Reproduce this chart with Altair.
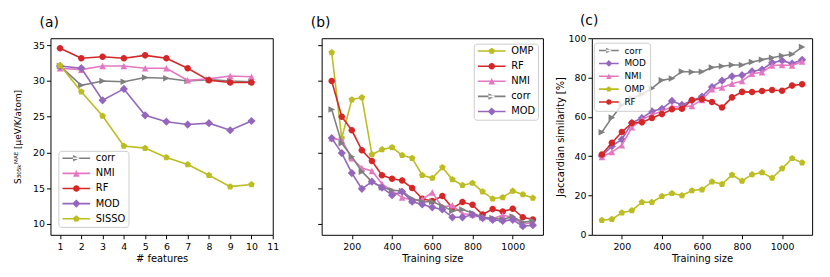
import altair as alt
import pandas as pd

FONT = "DejaVu Sans"

# ---------------- data ----------------
n_features = [1, 2, 3, 4, 5, 6, 7, 8, 9, 10]
a_corr = [32.1, 29.4, 30.0, 29.9, 30.5, 30.4, 30.0, 30.2, 30.0, 29.9]
a_nmi = [31.8, 31.6, 32.1, 32.1, 31.8, 31.8, 30.1, 30.3, 30.7, 30.6]
a_rf = [34.6, 33.2, 33.4, 33.2, 33.6, 33.2, 31.8, 30.1, 29.8, 29.8]
a_mod = [32.1, 31.8, 27.3, 28.9, 25.2, 24.3, 23.9, 24.1, 23.1, 24.4]
a_sisso = [32.2, 28.5, 25.1, 20.9, 20.6, 19.3, 18.3, 16.8, 15.2, 15.5]

train_size = [100, 150, 200, 250, 300, 350, 400, 450, 500, 550, 600,
              650, 700, 750, 800, 850, 900, 950, 1000, 1050, 1100]
b_omp = [34.0, 22.0, 27.4, 27.7, 19.7, 20.4, 20.7, 19.6, 19.2, 16.8, 16.4,
         17.9, 16.2, 15.4, 15.7, 14.5, 13.5, 13.7, 14.6, 14.1, 13.6]
b_rf = [30.0, 25.0, 23.1, 20.3, 18.8, 16.8, 16.3, 16.05, 15.0, 13.5, 13.2,
        13.9, 12.2, 13.05, 12.65, 11.3, 12.05, 11.7, 12.1, 10.9, 10.6]
b_nmi = [22.0, 21.7, 19.2, 17.8, 17.4, 15.6, 14.6, 13.7, 13.3, 13.4, 14.4,
         12.3, 12.6, 11.4, 11.3, 10.9, 10.7, 11.2, 10.9, 9.9, 10.2]
b_corr = [26.0, 21.3, 19.4, 17.3, 15.9, 15.1, 14.7, 14.6, 13.5, 13.1, 13.1,
          12.5, 11.8, 12.0, 11.5, 10.9, 10.8, 10.6, 11.0, 10.2, 10.4]
b_mod = [22.0, 19.9, 17.1, 14.9, 15.9, 15.05, 14.0, 14.5, 13.1, 12.7, 12.3,
         12.0, 10.9, 10.9, 11.25, 10.8, 10.55, 10.4, 10.55, 9.65, 9.8]

c_corr = [52.2, 59.6, 66.0, 69.5, 71.5, 74.5, 78.6, 79.5, 83.1, 82.8, 82.9,
          85.1, 85.7, 86.4, 86.4, 87.9, 89.1, 90.1, 91.1, 91.8, 95.5]
c_mod = [40.1, 45.1, 48.5, 56.9, 59.4, 62.8, 64.1, 68.1, 66.1, 68.3, 70.3,
         75.2, 78.4, 80.6, 81.2, 83.1, 84.1, 87.5, 88.6, 87.1, 89.0]
c_nmi = [39.6, 42.1, 45.6, 54.7, 58.6, 61.1, 62.8, 65.3, 64.9, 65.6, 68.6,
         74.1, 75.0, 76.9, 78.2, 81.9, 82.7, 86.1, 86.4, 86.1, 88.2]
c_omp = [7.4, 7.9, 11.2, 12.4, 16.6, 16.6, 19.6, 21.1, 20.0, 22.5, 23.0,
         27.0, 25.8, 30.5, 27.4, 30.7, 31.7, 28.9, 33.7, 38.9, 36.7]
c_rf = [40.9, 46.8, 52.3, 56.9, 57.2, 59.4, 61.4, 63.9, 64.1, 68.6, 69.0,
        67.6, 64.8, 69.9, 72.7, 72.6, 73.2, 73.7, 73.3, 75.9, 76.6]

# ---------------- styling ----------------
COLORS = {"corr": "#7f7f7f", "NMI": "#e377c2", "RF": "#d62728",
          "MOD": "#9467bd", "SISSO": "#bcbd22", "OMP": "#bcbd22"}
MARKER = {"corr": "tri_right", "NMI": "tri_up", "RF": "circle",
          "MOD": "diamond", "SISSO": "pentagon", "OMP": "pentagon"}
POLY = {
    "tri_right": [(1, 0), (-1, -1), (-1, 1)],
    "tri_up": [(0, -1), (1, 1), (-1, 1)],
    "diamond": [(0, -1.25), (1.25, 0), (0, 1.25), (-1.25, 0)],
    "pentagon": [(0, -1.05), (1.0, -0.32), (0.62, 0.85), (-0.62, 0.85), (-1.0, -0.32)],
}


def marker_path(name, dx=0.0):
    if name == "circle":
        return (f"M{dx + 1:.3f},0A1,1,0,1,1,{dx - 1:.3f},0"
                f"A1,1,0,1,1,{dx + 1:.3f},0Z")
    pts = POLY[name]
    return "M" + "L".join(f"{x + dx:.3f},{y:.3f}" for x, y in pts) + "Z"


def legend_path(name, half, dx, th):
    line = (f"M{dx - half:.3f},{-th:.3f}H{dx + half:.3f}"
            f"V{th:.3f}H{dx - half:.3f}Z")
    return line + marker_path(name, dx)


PT_SIZE = 44
LW = 1.6


def long_df(x, series):
    rows = []
    for name, vals in series:
        for xi, v in zip(x, vals):
            rows.append({"x": xi, "v": v, "series": name})
    return pd.DataFrame(rows)


def make_panel(df, order, x_enc, y_enc, title, title_dx, title_offset, leg):
    layers = []
    for s in order:
        layers.append(
            alt.Chart().transform_filter(alt.datum.series == s)
            .mark_line(color=COLORS[s], strokeWidth=LW,
                       point=alt.OverlayMarkDef(shape=marker_path(MARKER[s]),
                                                size=PT_SIZE, filled=True,
                                                color=COLORS[s], opacity=1))
            .encode(x=x_enc, y=y_enc)
        )
    r = (leg["size"] ** 0.5) / 2.0
    half = leg["line"] / 2.0 / r
    dx = half - 1.0
    th = 0.8 / r
    paths = [legend_path(MARKER[s], half, dx, th) for s in order]
    lg = alt.Legend(title=None, orient="none", legendX=leg["x"], legendY=leg["y"],
                    labelFont=FONT, labelFontSize=leg["font"], labelColor="black",
                    symbolSize=leg["size"], symbolStrokeWidth=0, symbolOpacity=1,
                    labelOffset=leg["line"] + 4 - 2 * r,
                    padding=leg["pad"], rowPadding=leg["rowpad"],
                    fillColor="rgba(255,255,255,0.8)", strokeColor="#cccccc",
                    cornerRadius=3, labelLimit=200)
    legend_layer = alt.Chart().mark_point(filled=True, opacity=0, size=leg["size"]).encode(
        x=x_enc, y=y_enc,
        color=alt.Color("series:N", scale=alt.Scale(domain=order,
                                                   range=[COLORS[s] for s in order]),
                        legend=lg),
        shape=alt.Shape("series:N", scale=alt.Scale(domain=order, range=paths),
                        legend=lg),
    )
    return alt.layer(*layers, legend_layer, data=df).properties(
        title=alt.TitleParams(title, anchor="start", frame="group", dx=title_dx,
                              fontSize=14, font=FONT, fontWeight="normal",
                              color="black", offset=title_offset),
    )


# ---------------- panel (a) ----------------
order_a = ["corr", "NMI", "RF", "MOD", "SISSO"]
df_a = long_df(n_features, list(zip(order_a, [a_corr, a_nmi, a_rf, a_mod, a_sisso])))
y_s = alt.Scale(domain=[8.45, 36.0], nice=False, zero=False)
xa = alt.X("x:Q", scale=alt.Scale(domain=[0.55, 11.0], nice=False, zero=False),
           axis=alt.Axis(title="# features", values=list(range(1, 12)), format="d"))
ya = alt.Y("v:Q", scale=y_s,
           axis=alt.Axis(title="S\u2083\u2080\u2085\u2096\u1d39\u1d2c\u1d31 [\u00b5eV/K/atom]",
                         titleFontSize=9, titlePadding=10,
                         values=[10, 15, 20, 25, 30, 35]))
pa = make_panel(df_a, order_a, xa, ya, "(a)", -11, 8,
                dict(x=8, y=114, font=10, size=PT_SIZE, line=28, pad=2.5, rowpad=5.3)
                ).properties(width=225, height=199)

# ---------------- panel (b) ----------------
order_b = ["OMP", "RF", "NMI", "corr", "MOD"]
df_b = long_df(train_size, list(zip(order_b, [b_omp, b_rf, b_nmi, b_corr, b_mod])))
xb = alt.X("x:Q", scale=alt.Scale(domain=[50, 1150], nice=False, zero=False),
           axis=alt.Axis(title="Training size", values=[200, 400, 600, 800, 1000],
                         format="d"))
yb = alt.Y("v:Q", scale=y_s,
           axis=alt.Axis(title=None, labels=False, values=[10, 15, 20, 25, 30, 35]))
pb = make_panel(df_b, order_b, xb, yb, "(b)", -11, 8,
                dict(x=154, y=5.5, font=10, size=PT_SIZE, line=28, pad=2.5, rowpad=5.3)
                ).properties(width=224, height=199)

# ---------------- panel (c) ----------------
order_c = ["corr", "MOD", "NMI", "OMP", "RF"]
df_c = long_df(train_size, list(zip(order_c, [c_corr, c_mod, c_nmi, c_omp, c_rf])))
xc = alt.X("x:Q", scale=alt.Scale(domain=[50, 1150], nice=False, zero=False),
           axis=alt.Axis(title="Training size", values=[200, 400, 600, 800, 1000],
                         format="d"))
yc = alt.Y("v:Q", scale=alt.Scale(domain=[0, 100], nice=False),
           axis=alt.Axis(title="Jaccardian similarity [%]",
                         values=[0, 20, 40, 60, 80, 100]))
pc = make_panel(df_c, order_c, xc, yc, "(c)", -12, 5,
                dict(x=2, y=4.5, font=9, size=30, line=20, pad=3.5, rowpad=3.0)
                ).properties(width=223, height=199)

chart = (
    alt.hconcat(pa, pb, pc, spacing=49.5)
    .resolve_scale(color="independent", shape="independent",
                   x="independent", y="independent")
    .properties(bounds="flush", padding={"left": 5, "top": 4, "right": 2, "bottom": 2})
    .configure_view(stroke="black", strokeWidth=1)
    .configure_axis(labelFont=FONT, labelFontSize=9.5, labelColor="black",
                    titleFont=FONT, titleFontSize=10, titleFontWeight="normal",
                    titleColor="black", tickColor="black", tickSize=4,
                    labelPadding=2, domain=False, grid=False, titlePadding=3,
                    labelOverlap=False)
    .configure_axisX(labelFlush=False, labelPadding=3)
)

chart.save("out.html", embed_options={"renderer": "svg", "actions": False})
